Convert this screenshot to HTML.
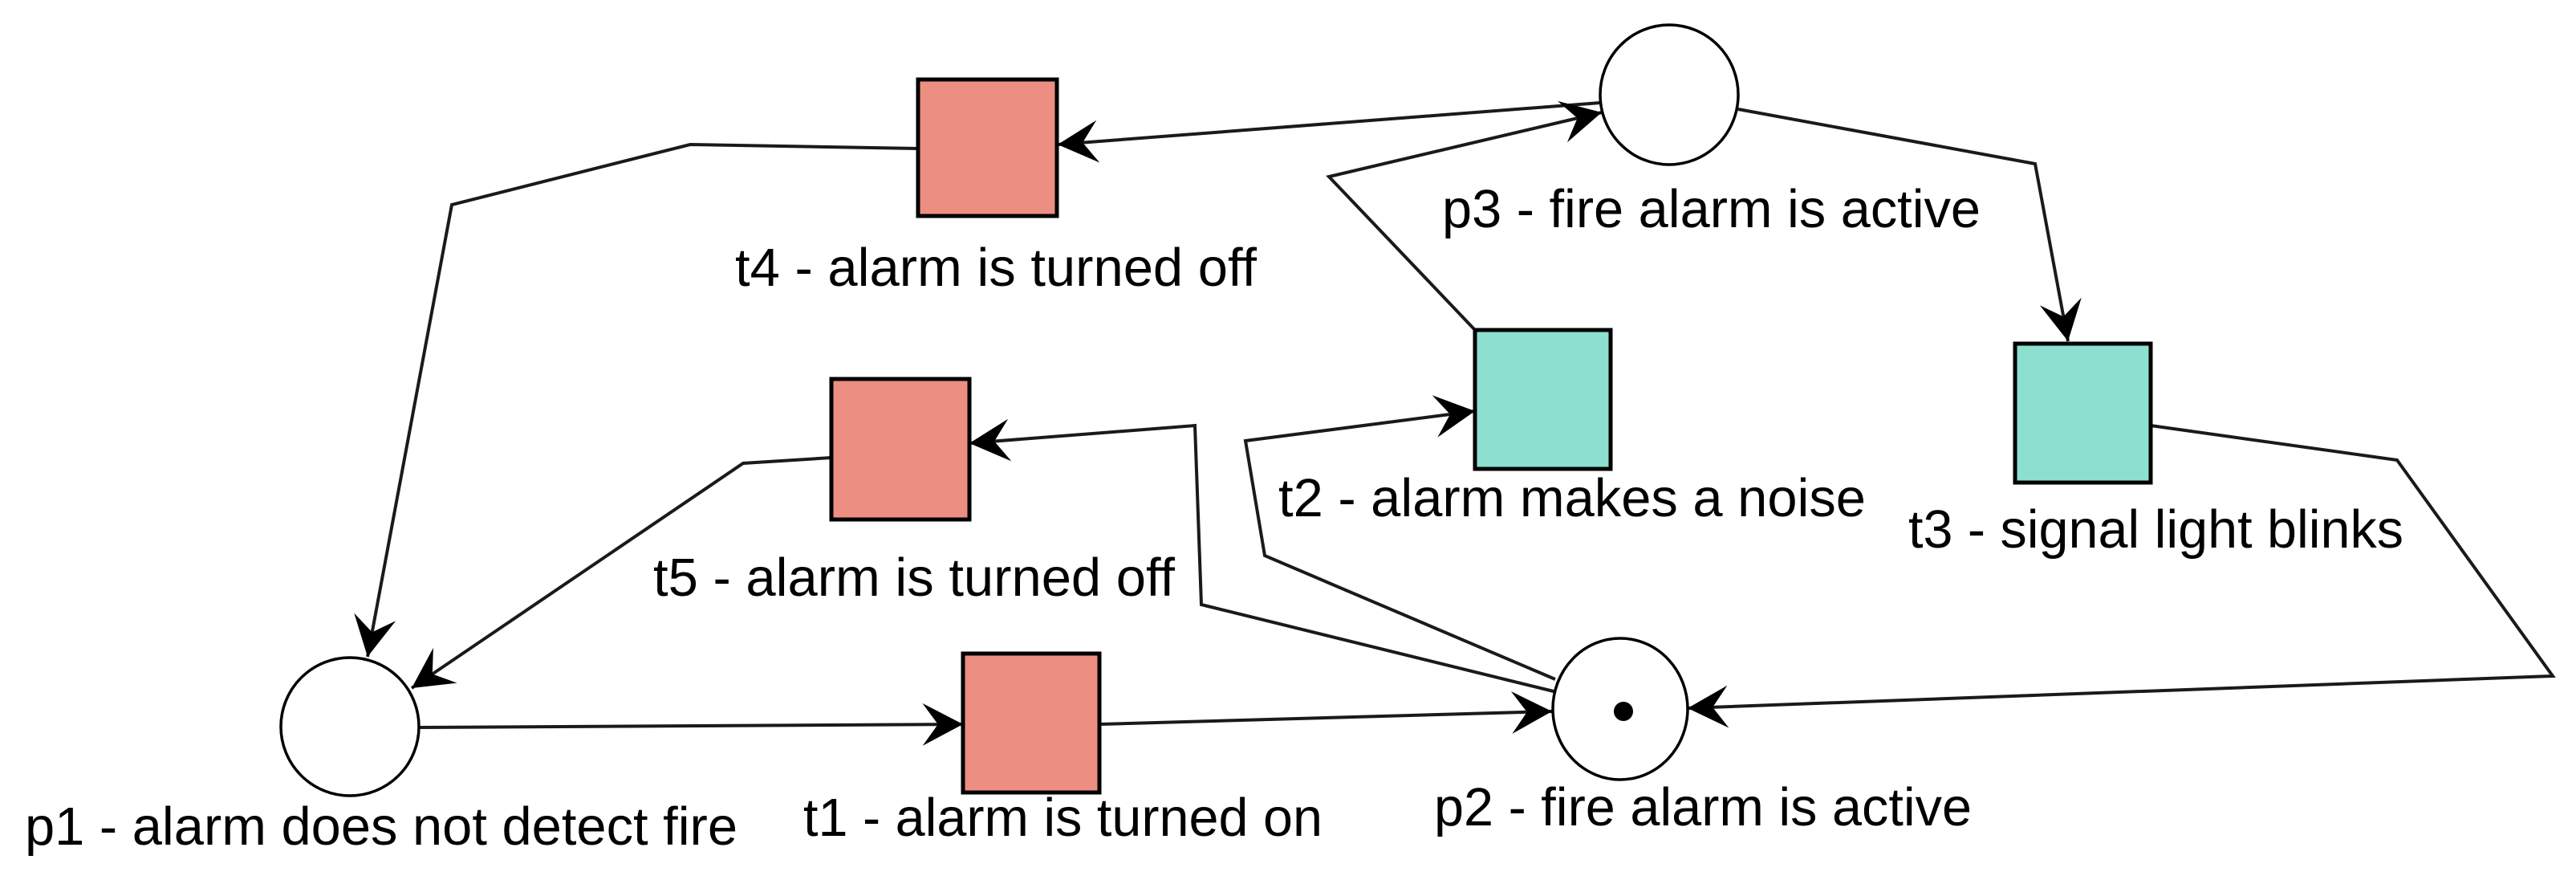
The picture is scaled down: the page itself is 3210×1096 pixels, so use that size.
<!DOCTYPE html>
<html><head><meta charset="utf-8"><style>
html,body{margin:0;padding:0;background:#fff;}
svg{display:block;}
text{font-family:"Liberation Sans",Arial,sans-serif;font-size:67px;fill:#000;}
</style></head><body>
<svg width="3210" height="1096" viewBox="0 0 3210 1096" xmlns="http://www.w3.org/2000/svg">
<defs>
<marker id="a" markerUnits="userSpaceOnUse" markerWidth="60" markerHeight="60" viewBox="-45 -25 50 50" refX="0" refY="0" orient="auto">
<path d="M0,0 L-42,-22 L-26,0 L-42,22 Z" fill="#000"/>
</marker>
</defs>
<g fill="none" stroke="#1a1a1a" stroke-width="4" stroke-linejoin="miter">
<polyline points="1144,185 860,180 563,255 458,818" marker-end="url(#a)"/>
<polyline points="1036,570 926,577 513,857" marker-end="url(#a)"/>
<polyline points="522,906 1200,902" marker-end="url(#a)"/>
<polyline points="1370,902 1934,886" marker-end="url(#a)"/>
<polyline points="1994,128 1318,180" marker-end="url(#a)" marker-start="url(#a)"/>
<polyline points="1838,411 1656,220 1996,140" marker-end="url(#a)"/>
<polyline points="2166,136 2536,204 2577,425" marker-end="url(#a)"/>
<polyline points="2680,530 2987,573 3181,842 2103,882" marker-end="url(#a)"/>
<polyline points="1938,846 1576,692 1552,549 1838,512" marker-end="url(#a)"/>
<polyline points="1940,862 1497,753 1489,530 1208,552" marker-end="url(#a)"/>
</g>
<g stroke="#000" stroke-width="5">
<rect x="1144" y="99" width="173" height="170" fill="#ec8e82"/>
<rect x="1036" y="472" width="172" height="175" fill="#ec8e82"/>
<rect x="1200" y="814" width="170" height="173" fill="#ec8e82"/>
<rect x="1838" y="411" width="169" height="173" fill="#8ddfcf"/>
<rect x="2511" y="428" width="169" height="173" fill="#8ddfcf"/>
</g>
<g stroke="#000" stroke-width="3.5" fill="#fff">
<ellipse cx="436" cy="905" rx="86" ry="86"/>
<ellipse cx="2080" cy="118" rx="86" ry="87"/>
<ellipse cx="2019" cy="883" rx="84" ry="88"/>
</g>
<circle cx="2023" cy="886" r="12" fill="#000"/>
<text x="916" y="356" textLength="650" lengthAdjust="spacingAndGlyphs">t4 - alarm is turned off</text>
<text x="814" y="742" textLength="650" lengthAdjust="spacingAndGlyphs">t5 - alarm is turned off</text>
<text x="31" y="1052" textLength="888" lengthAdjust="spacingAndGlyphs">p1 - alarm does not detect fire</text>
<text x="1001" y="1041" textLength="647" lengthAdjust="spacingAndGlyphs">t1 - alarm is turned on</text>
<text x="1797" y="283" textLength="671" lengthAdjust="spacingAndGlyphs">p3 - fire alarm is active</text>
<text x="1593" y="643" textLength="732" lengthAdjust="spacingAndGlyphs">t2 - alarm makes a noise</text>
<text x="2378" y="682" textLength="617" lengthAdjust="spacingAndGlyphs">t3 - signal light blinks</text>
<text x="1787" y="1028" textLength="670" lengthAdjust="spacingAndGlyphs">p2 - fire alarm is active</text>
</svg>
</body></html>
